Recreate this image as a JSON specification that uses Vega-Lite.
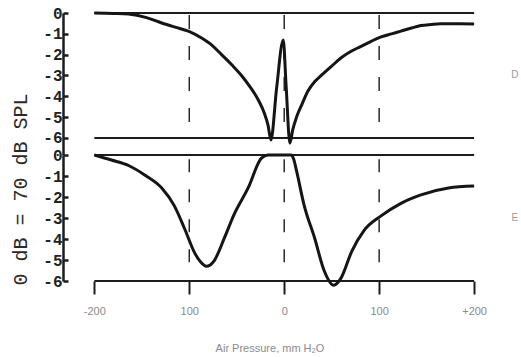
{
  "$schema": "https://vega.github.io/schema/vega-lite/v6.json",
  "background": "white",
  "padding": {"left": 9, "top": 5, "right": 0, "bottom": 0},
  "spacing": 0,
  "bounds": "flush",
  "config": {
    "view": {"stroke": null},
    "axis": {"grid": false},
    "axisY": {
      "values": [0, -1, -2, -3, -4, -5, -6],
      "tickCount": 10,
      "labelExpr": "datum.value == 0 ? '0' : '-' + abs(datum.value)",
      "labelOverlap": false,
      "labelBound": false,
      "domainColor": "#1c1c1c", "domainWidth": 2.5,
      "tickColor": "#1c1c1c", "tickWidth": 2.5, "tickSize": -5,
      "labelPadding": 6,
      "labelFont": "Liberation Mono", "labelFontSize": 16, "labelFontWeight": "bold",
      "labelColor": "#222222"
    }
  },
  "datasets": {
    "curveD": [
      {"p": -200, "db": 0}, {"p": -180, "db": -0.02}, {"p": -164, "db": -0.05},
      {"p": -145, "db": -0.22}, {"p": -129, "db": -0.48}, {"p": -115, "db": -0.68},
      {"p": -101, "db": -0.87}, {"p": -87, "db": -1.2}, {"p": -76, "db": -1.55},
      {"p": -66, "db": -2.0}, {"p": -55, "db": -2.5}, {"p": -45, "db": -3.0},
      {"p": -36, "db": -3.55}, {"p": -27, "db": -4.2}, {"p": -21, "db": -4.8},
      {"p": -17, "db": -5.4}, {"p": -14, "db": -6.1}, {"p": -8, "db": -3.6},
      {"p": -1, "db": -1.3}, {"p": 2, "db": -3.5}, {"p": 6, "db": -6.25},
      {"p": 9, "db": -5.6}, {"p": 13, "db": -5.0}, {"p": 19, "db": -4.35},
      {"p": 25, "db": -3.75}, {"p": 32, "db": -3.3}, {"p": 39, "db": -3.0},
      {"p": 50, "db": -2.55}, {"p": 60, "db": -2.15}, {"p": 70, "db": -1.85},
      {"p": 81, "db": -1.6}, {"p": 92, "db": -1.35}, {"p": 102, "db": -1.15},
      {"p": 113, "db": -1.0}, {"p": 123, "db": -0.87}, {"p": 134, "db": -0.72},
      {"p": 144, "db": -0.6}, {"p": 155, "db": -0.55}, {"p": 165, "db": -0.52},
      {"p": 185, "db": -0.52}, {"p": 200, "db": -0.53}
    ],
    "curveE": [
      {"p": -200, "db": 0}, {"p": -182, "db": -0.24}, {"p": -164, "db": -0.5},
      {"p": -147, "db": -0.95}, {"p": -129, "db": -1.57}, {"p": -116, "db": -2.4},
      {"p": -105, "db": -3.5}, {"p": -95, "db": -4.6}, {"p": -88, "db": -5.1},
      {"p": -82, "db": -5.3}, {"p": -74, "db": -5.05}, {"p": -63, "db": -3.95},
      {"p": -53, "db": -2.85}, {"p": -38, "db": -1.57}, {"p": -24, "db": -0.15},
      {"p": -17, "db": 0}, {"p": 7, "db": 0}, {"p": 10, "db": -0.2},
      {"p": 13, "db": -0.76}, {"p": 21, "db": -2.4}, {"p": 32, "db": -3.95},
      {"p": 42, "db": -5.5}, {"p": 52, "db": -6.2}, {"p": 60, "db": -5.85},
      {"p": 71, "db": -4.6}, {"p": 84, "db": -3.6}, {"p": 102, "db": -2.9},
      {"p": 123, "db": -2.3}, {"p": 144, "db": -1.9}, {"p": 173, "db": -1.57},
      {"p": 200, "db": -1.48}
    ],
    "frame": [{"db": 0}, {"db": -6}],
    "guides": [{"p": -100}, {"p": 0}, {"p": 100}],
    "one": [{}]
  },
  "vconcat": [
    {
      "width": 413,
      "height": 142,
      "layer": [
        {
          "data": {"name": "frame"},
          "mark": {"type": "rule", "strokeWidth": 2, "color": "#1c1c1c"},
          "encoding": {
            "x": {"datum": -200, "type": "quantitative", "scale": {"domain": [-233, 202], "nice": false, "zero": false}, "axis": null},
            "x2": {"datum": 200},
            "y": {
              "field": "db", "type": "quantitative", "title": null,
              "scale": {"domain": [-6.82, 0], "nice": false, "zero": false},
              "axis": {"title": null, "values": [0, -1, -2, -3, -4, -5, -6], "tickCount": 10, "labelOverlap": false}
            }
          }
        },
        {
          "data": {"name": "guides"},
          "mark": {"type": "rule", "strokeWidth": 1.5, "strokeDash": [14, 17], "color": "#2a2a2a"},
          "encoding": {
            "x": {"field": "p", "type": "quantitative", "title": null},
            "y": {"datum": -0.1},
            "y2": {"datum": -5.35}
          }
        },
        {
          "data": {"name": "curveD"},
          "mark": {"type": "line", "interpolate": "monotone", "strokeWidth": 3, "color": "#151515"},
          "encoding": {
            "x": {"field": "p", "type": "quantitative", "title": null},
            "y": {"field": "db", "type": "quantitative", "title": null}
          }
        },
        {
          "data": {"name": "one"},
          "mark": {"type": "text", "font": "Liberation Sans", "fontSize": 10, "color": "#9a9a9a"},
          "encoding": {
            "x": {"datum": 243},
            "y": {"datum": -3},
            "text": {"value": "D"}
          }
        }
      ]
    },
    {
      "width": 413,
      "height": 126,
      "layer": [
        {
          "data": {"name": "frame"},
          "mark": {"type": "rule", "strokeWidth": 2, "color": "#1c1c1c"},
          "encoding": {
            "x": {
              "datum": -200, "type": "quantitative",
              "scale": {"domain": [-233, 202], "nice": false, "zero": false},
              "axis": {
                "values": [-200, -100, 0, 100, 200],
                "tickCount": 10,
                "labelExpr": "datum.value == -200 ? '-200' : datum.value == 200 ? '+200' : datum.value == 0 ? '0' : '100'",
                "labelFlush": false,
                "domain": false,
                "tickSize": 13, "tickWidth": 2, "tickColor": "#1c1c1c",
                "labelPadding": 11,
                "labelFont": "Liberation Sans", "labelFontSize": 11, "labelColor": "#8a8a8a",
                "title": "Air Pressure, mm H₂O",
                "titleFont": "Liberation Sans", "titleFontSize": 11, "titleFontWeight": "normal",
                "titleColor": "#8a8a8a", "titleY": 67, "titleBaseline": "middle"
              }
            },
            "x2": {"datum": 200},
            "y": {
              "field": "db", "type": "quantitative", "title": "0 dB = 70 dB SPL",
              "scale": {"domain": [-6, 0], "nice": false, "zero": false},
              "axis": {
                "values": [0, -1, -2, -3, -4, -5, -6],
                "tickCount": 10,
                "labelOverlap": false,
                "title": "0 dB = 70 dB SPL",
                "titleFont": "Liberation Mono", "titleFontSize": 20, "titleFontWeight": "normal",
                "titleColor": "#2a2a2a", "titleAngle": 270, "titleAlign": "center",
                "titleBaseline": "middle", "titleX": -43, "titleY": 34
              }
            }
          }
        },
        {
          "data": {"name": "guides"},
          "mark": {"type": "rule", "strokeWidth": 1.5, "strokeDash": [13, 17], "color": "#2a2a2a"},
          "encoding": {
            "x": {"field": "p", "type": "quantitative", "title": "Air Pressure, mm H₂O"},
            "y": {"datum": -0.2},
            "y2": {"datum": -5.45}
          }
        },
        {
          "data": {"name": "curveE"},
          "mark": {"type": "line", "interpolate": "monotone", "strokeWidth": 3, "color": "#151515"},
          "encoding": {
            "x": {"field": "p", "type": "quantitative", "title": "Air Pressure, mm H₂O"},
            "y": {"field": "db", "type": "quantitative", "title": "0 dB = 70 dB SPL"}
          }
        },
        {
          "data": {"name": "one"},
          "mark": {"type": "text", "font": "Liberation Sans", "fontSize": 10, "color": "#9a9a9a"},
          "encoding": {
            "x": {"datum": 243},
            "y": {"datum": -3},
            "text": {"value": "E"}
          }
        }
      ]
    }
  ]
}
